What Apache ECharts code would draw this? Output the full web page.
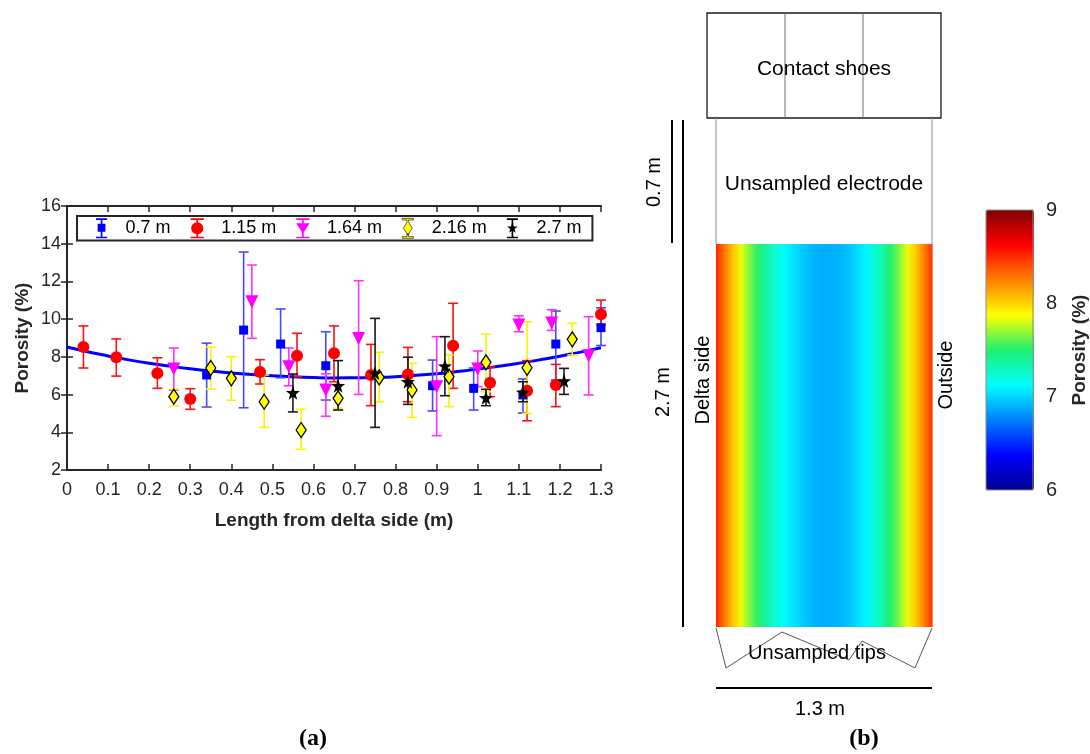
<!DOCTYPE html>
<html>
<head>
<meta charset="utf-8">
<script src="https://cdn.jsdelivr.net/npm/echarts@6/dist/echarts.min.js"></script>
<style>html,body{margin:0;padding:0;background:#fff;}#c{width:1090px;height:754px;}</style>
</head>
<body>
<div id="c"></div>
<script>
// ---------------- data ----------------
const x07  = [0.34, 0.43, 0.52, 0.63, 0.89, 0.99, 1.11, 1.19, 1.30];
const y07  = [7.04, 9.42, 8.68, 7.53, 6.47, 6.33, 5.98, 8.68, 9.55];
const lo07 = [5.34, 5.30, 6.89, 5.71, 5.13, 5.18, 5.02, 6.77, 8.60];
const hi07 = [8.73, 13.56, 10.54, 9.33, 7.83, 7.41, 6.83, 10.43, 10.60];

const x115  = [0.04, 0.12, 0.22, 0.30, 0.47, 0.56, 0.65, 0.74, 0.83, 0.94, 1.03, 1.12, 1.19, 1.30];
const y115  = [8.52, 7.98, 7.13, 5.76, 7.20, 8.06, 8.19, 7.04, 7.07, 8.59, 6.63, 6.20, 6.51, 10.26];
const lo115 = [7.41, 6.98, 6.33, 5.22, 6.56, 6.95, 6.68, 5.41, 5.62, 6.33, 5.89, 4.61, 5.36, 9.69];
const hi115 = [9.64, 8.95, 7.95, 6.31, 7.85, 9.25, 9.64, 8.66, 8.50, 10.84, 7.46, 7.80, 7.60, 11.01];

const x164  = [0.26, 0.45, 0.54, 0.63, 0.71, 0.90, 1.00, 1.10, 1.18, 1.27];
const y164  = [7.36, 10.92, 7.48, 6.24, 8.98, 6.42, 7.35, 9.69, 9.80, 8.06];
const lo164 = [6.24, 8.98, 6.47, 4.85, 6.01, 3.82, 6.42, 9.33, 9.40, 5.98];
const hi164 = [8.47, 12.87, 8.47, 7.10, 12.04, 9.07, 8.31, 10.18, 10.50, 10.13];

const x216  = [0.26, 0.35, 0.40, 0.48, 0.57, 0.66, 0.76, 0.84, 0.93, 1.02, 1.12, 1.23];
const y216  = [5.89, 7.41, 6.86, 5.62, 4.12, 5.80, 6.91, 6.24, 6.95, 7.71, 7.42, 8.93];
const lo216 = [5.41, 6.29, 5.70, 4.26, 3.10, 5.27, 5.62, 4.79, 5.36, 6.15, 5.00, 8.10];
const hi216 = [6.29, 8.52, 8.01, 7.04, 5.22, 6.54, 8.24, 7.66, 8.10, 9.21, 9.86, 9.78];

const x27  = [0.55, 0.66, 0.75, 0.83, 0.92, 1.02, 1.11, 1.21];
const y27  = [6.10, 6.47, 7.13, 6.68, 7.51, 5.83, 6.12, 6.72];
const lo27 = [5.08, 5.18, 4.26, 5.48, 5.94, 5.41, 5.62, 6.01];
const hi27 = [7.09, 7.80, 10.04, 7.98, 9.07, 6.28, 6.68, 7.39];

// fitted curve (also the porosity profile across the electrode)
const fitX = [0, 0.05, 0.1, 0.15, 0.2, 0.25, 0.3, 0.35, 0.4, 0.45, 0.5, 0.55, 0.6, 0.65,
              0.7, 0.75, 0.8, 0.85, 0.9, 0.95, 1.0, 1.05, 1.1, 1.15, 1.2, 1.25, 1.3];
const fitY = [8.52, 8.27, 8.05, 7.84, 7.66, 7.51, 7.37, 7.25, 7.15, 7.06, 7.00, 6.94, 6.90, 6.88,
              6.89, 6.91, 6.95, 7.02, 7.10, 7.22, 7.35, 7.50, 7.66, 7.84, 8.03, 8.25, 8.48];

const seriesNames = ['0.7 m', '1.15 m', '1.64 m', '2.16 m', '2.7 m'];
const yTicks = [2, 16, 2];      // min, max, step
const xTicks = [0, 1.3, 0.1];
const cbTicks = [6, 9, 1];

// ---------------- styles ----------------
const TXT = '#262626';
const FONT = '"Liberation Sans", Arial, sans-serif';
const PALETTE = ['#00008F', '#0000FF', '#0080FF', '#00FFFF', '#20F070', '#FFFF00', '#FF8000', '#FF0000', '#800000'];

const STAR = 'M5,0L6.18,3.38L9.76,3.46L6.9,5.62L7.94,9.05L5,7L2.06,9.05L3.1,5.62L0.24,3.46L3.82,3.38Z';
const groups = [
  {x: x07,  y: y07,  lo: lo07,  hi: hi07,  mark: '#0000FF', bar: '#4848FF', symbol: 'rect', size: 9, border: null,
   icon: 'path://M0,0H10V1.5H5.75V5H8.5V12H5.75V16.5H10V18H0V16.5H4.25V12H1.5V5H4.25V1.5H0Z'},
  {x: x115, y: y115, lo: lo115, hi: hi115, mark: '#FF0000', bar: '#FF1010', symbol: 'circle', size: 12, border: null,
   icon: 'path://M0,0H12V1.5H6.75V4H5.25V1.5H0ZM0.5,9A5.5,5.5,0,1,1,11.5,9A5.5,5.5,0,1,1,0.5,9ZM5.25,14H6.75V16.5H12V18H0V16.5H5.25Z'},
  {x: x164, y: y164, lo: lo164, hi: hi164, mark: '#FF00FF', bar: '#FF30FF', symbol: 'triangle', rotate: 180, size: 13, border: null,
   icon: 'path://M0,0H12V1.5H6.75V4.5H12L6,14L0,4.5H5.25V1.5H0ZM5.25,12H6.75V16.5H12V18H0V16.5H5.25Z'},
  {x: x216, y: y216, lo: lo216, hi: hi216, mark: '#FFFF00', bar: '#F5F500', symbol: 'diamond', size: [10, 15], border: '#000',
   icon: 'path://M0,0H10V1.5H5.75V3.5L9,9L5,15L1,9L4.25,3.5V1.5H0ZM4.25,14H5.75V16.5H10V18H0V16.5H4.25Z'},
  {x: x27,  y: y27,  lo: lo27,  hi: hi27,  mark: '#000000', bar: '#1a1a1a', symbol: 'path://' + STAR, size: 14, border: null,
   icon: 'path://M0,0H10V1.5H5.75V4.5L6.18,7.38L9.76,7.46L6.9,9.62L7.94,13.05L5.75,11.5V16.5H10V18H0V16.5H4.25V11.5L2.06,13.05L3.1,9.62L0.24,7.46L3.82,7.38L4.25,4.5V1.5H0Z'}
];

function renderErr(params, api) {
  const x = api.value(0), lo = api.value(1), hi = api.value(2);
  const a = api.coord([x, hi]), b = api.coord([x, lo]);
  const hw = 5;
  const st = {stroke: api.visual('color'), lineWidth: 1.6};
  return {type: 'group', children: [
    {type: 'line', shape: {x1: a[0], y1: a[1], x2: b[0], y2: b[1]}, style: st},
    {type: 'line', shape: {x1: a[0] - hw, y1: a[1], x2: a[0] + hw, y2: a[1]}, style: st},
    {type: 'line', shape: {x1: b[0] - hw, y1: b[1], x2: b[0] + hw, y2: b[1]}, style: st}
  ]};
}

// colour of a porosity value, through the library's own colour interpolation
function porColor(v) {
  const t = Math.max(0, Math.min(1, (v - cbTicks[0]) / (cbTicks[1] - cbTicks[0])));
  return echarts.color.lerp(t, PALETTE);
}
// shaded band between two neighbouring profile samples
function renderHeat(params, api) {
  const x0 = api.value(0), x1 = api.value(1), v0 = api.value(2), v1 = api.value(3);
  const p0 = api.coord([x0, 0]), p1 = api.coord([x1, 1]);
  return {
    type: 'rect',
    shape: {x: p0[0], y: p1[1], width: p1[0] - p0[0] + 0.6, height: p0[1] - p1[1]},
    style: {fill: {type: 'linear', x: 0, y: 0, x2: 1, y2: 0, global: false,
      colorStops: [{offset: 0, color: porColor(v0)}, {offset: 1, color: porColor(v1)}]}}
  };
}

const series = [];
series.push({
  type: 'line', name: 'fit', xAxisIndex: 0, yAxisIndex: 0,
  data: fitX.map((x, i) => [x, fitY[i]]), smooth: true, showSymbol: false,
  lineStyle: {color: '#0000FF', width: 3}, z: 2, silent: true
});
groups.forEach((g, k) => {
  series.push({
    type: 'scatter', name: seriesNames[k], xAxisIndex: 0, yAxisIndex: 0,
    data: g.x.map((x, i) => [x, g.y[i]]),
    symbol: g.symbol, symbolSize: g.size, symbolRotate: g.rotate || 0,
    itemStyle: {color: g.mark, borderColor: g.border || g.mark, borderWidth: g.border ? 1.3 : 0, opacity: 1},
    z: 4 + k
  });
});
groups.forEach((g, k) => {
  series.push({
    type: 'custom', name: seriesNames[k], xAxisIndex: 0, yAxisIndex: 0,
    data: g.x.map((x, i) => [x, g.lo[i], g.hi[i]]),
    encode: {x: 0, y: [1, 2]},
    renderItem: renderErr,
    itemStyle: {color: g.bar},
    z: 3
  });
});
const heatIndex = series.length;
series.push({
  type: 'custom', name: 'profile', xAxisIndex: 2, yAxisIndex: 2,
  data: fitX.slice(0, -1).map((x, i) => [x, fitX[i + 1], fitY[i], fitY[i + 1]]),
  encode: {x: [0, 1]},
  renderItem: renderHeat, silent: true
});

const chart = echarts.init(document.getElementById('c'), null, {renderer: 'canvas'});

const axLine = {show: true, lineStyle: {color: TXT, width: 2}};
const inTick = {show: true, inside: true, length: 6, lineStyle: {color: TXT, width: 1.5}};

const option = {
  animation: false,
  backgroundColor: '#fff',
  textStyle: {fontFamily: FONT},
  grid: [
    {left: 67, top: 206, width: 534, height: 264},
    {left: 716, top: 244, width: 216, height: 383},
    {left: 986, top: 210, width: 48, height: 280, show: true, borderColor: '#8c8c8c', borderWidth: 1, backgroundColor: 'transparent', z: 10}
  ],
  legend: {
    left: 77, top: 216,
    data: seriesNames.map((n, k) => ({name: n, icon: groups[k].icon,
      itemStyle: k === 3 ? {borderColor: '#000', borderWidth: 0.6} : undefined})),
    itemWidth: 14, itemHeight: 20, itemGap: 20,
    padding: [2, 11, 2, 19],
    borderColor: TXT, borderWidth: 2, backgroundColor: '#fff',
    textStyle: {fontSize: 18, color: '#000', fontFamily: FONT, padding: [0, 0, 0, 12]},
    selectedMode: false, z: 20
  },
  xAxis: [
    {type: 'value', gridIndex: 0, min: xTicks[0], max: xTicks[1], interval: xTicks[2], position: 'bottom',
     axisLine: axLine, axisTick: inTick, splitLine: {show: false},
     axisLabel: {fontSize: 18, color: TXT, margin: 11, fontFamily: FONT, formatter: v => String(+v.toFixed(1))},
     name: 'Length from delta side (m)', nameLocation: 'middle', nameGap: 41,
     nameTextStyle: {fontSize: 19, fontWeight: 'bold', color: TXT, fontFamily: FONT}},
    {type: 'value', gridIndex: 0, min: xTicks[0], max: xTicks[1], interval: xTicks[2], position: 'top',
     axisLine: axLine, axisTick: inTick, axisLabel: {show: false}, splitLine: {show: false}},
    {type: 'value', gridIndex: 1, min: xTicks[0], max: xTicks[1], show: false},
    {type: 'value', gridIndex: 2, show: false, min: 0, max: 1}
  ],
  yAxis: [
    {type: 'value', gridIndex: 0, min: yTicks[0], max: yTicks[1], interval: yTicks[2], position: 'left',
     axisLine: axLine, axisTick: inTick, splitLine: {show: false},
     axisLabel: {fontSize: 18, color: TXT, margin: 6, fontFamily: FONT},
     name: 'Porosity (%)', nameLocation: 'middle', nameGap: 35,
     nameTextStyle: {fontSize: 19, fontWeight: 'bold', color: TXT, fontFamily: FONT}},
    {type: 'value', gridIndex: 0, min: yTicks[0], max: yTicks[1], interval: yTicks[2], position: 'right',
     axisLine: axLine, axisTick: inTick, axisLabel: {show: false}, splitLine: {show: false}},
    {type: 'value', gridIndex: 1, min: 0, max: 1, show: false},
    {type: 'value', gridIndex: 2, min: cbTicks[0], max: cbTicks[1], interval: cbTicks[2], position: 'right',
     axisLine: {show: false}, axisTick: {show: false},
     splitLine: {show: false},
     axisLabel: {fontSize: 20, color: TXT, margin: 13, fontFamily: FONT},
     name: 'Porosity (%)', nameLocation: 'middle', nameGap: 37, nameRotate: 90,
     nameTextStyle: {fontSize: 19, fontWeight: 'bold', color: TXT, fontFamily: FONT}}
  ],
  visualMap: {
    type: 'continuous', min: cbTicks[0], max: cbTicks[1], seriesIndex: heatIndex,
    left: 986, top: 210, itemWidth: 48, itemHeight: 280, padding: 0,
    calculable: false, hoverLink: false, showLabel: false, text: null,
    inRange: {color: PALETTE}
  },
  graphic: [
    {type: 'rect', shape: {x: 707, y: 13, width: 234, height: 105}, style: {fill: 'none', stroke: '#1a1a1a', lineWidth: 1.3}},
    {type: 'line', shape: {x1: 785, y1: 13, x2: 785, y2: 118}, style: {stroke: '#6e6e6e', lineWidth: 1}},
    {type: 'line', shape: {x1: 863, y1: 13, x2: 863, y2: 118}, style: {stroke: '#6e6e6e', lineWidth: 1}},
    {type: 'text', style: {x: 824, y: 69, text: 'Contact shoes', fontSize: 21, fontFamily: FONT, fill: '#000', align: 'center', verticalAlign: 'middle'}},
    {type: 'line', shape: {x1: 716, y1: 118, x2: 716, y2: 244}, style: {stroke: '#8c8c8c', lineWidth: 1}},
    {type: 'line', shape: {x1: 932, y1: 118, x2: 932, y2: 244}, style: {stroke: '#8c8c8c', lineWidth: 1}},
    {type: 'text', style: {x: 824, y: 184, text: 'Unsampled electrode', fontSize: 21, fontFamily: FONT, fill: '#000', align: 'center', verticalAlign: 'middle'}},
    {type: 'polyline', shape: {points: [[716, 628], [726, 668], [782, 632], [849, 660], [862, 641], [915, 668], [932, 628]]},
     style: {fill: 'none', stroke: '#555', lineWidth: 1}},
    {type: 'text', style: {x: 817, y: 653, text: 'Unsampled tips', fontSize: 20, fontFamily: FONT, fill: '#000', align: 'center', verticalAlign: 'middle'}},
    {type: 'text', x: 703, y: 380, rotation: Math.PI / 2, style: {text: 'Delta side', fontSize: 20, fontFamily: FONT, fill: '#000', align: 'center', verticalAlign: 'middle'}},
    {type: 'text', x: 946, y: 375, rotation: Math.PI / 2, style: {text: 'Outside', fontSize: 20, fontFamily: FONT, fill: '#000', align: 'center', verticalAlign: 'middle'}},
    {type: 'line', shape: {x1: 683, y1: 120, x2: 683, y2: 627}, style: {stroke: '#000', lineWidth: 2}},
    {type: 'text', x: 663, y: 392, rotation: Math.PI / 2, style: {text: '2.7 m', fontSize: 20, fontFamily: FONT, fill: '#000', align: 'center', verticalAlign: 'middle'}},
    {type: 'line', shape: {x1: 672, y1: 120, x2: 672, y2: 243}, style: {stroke: '#000', lineWidth: 2}},
    {type: 'text', x: 654, y: 182, rotation: Math.PI / 2, style: {text: '0.7 m', fontSize: 20, fontFamily: FONT, fill: '#000', align: 'center', verticalAlign: 'middle'}},
    {type: 'line', shape: {x1: 716, y1: 688, x2: 932, y2: 688}, style: {stroke: '#000', lineWidth: 2}},
    {type: 'text', style: {x: 820, y: 709, text: '1.3 m', fontSize: 20, fontFamily: FONT, fill: '#000', align: 'center', verticalAlign: 'middle'}},
    {type: 'text', style: {x: 313, y: 739, text: '(a)', fontSize: 24, fontWeight: 'bold', fontFamily: '"Liberation Serif", "Times New Roman", serif', fill: '#000', align: 'center', verticalAlign: 'middle'}},
    {type: 'text', style: {x: 864, y: 739, text: '(b)', fontSize: 24, fontWeight: 'bold', fontFamily: '"Liberation Serif", "Times New Roman", serif', fill: '#000', align: 'center', verticalAlign: 'middle'}}
  ],
  series: series
};
chart.setOption(option);
</script>
</body>
</html>
